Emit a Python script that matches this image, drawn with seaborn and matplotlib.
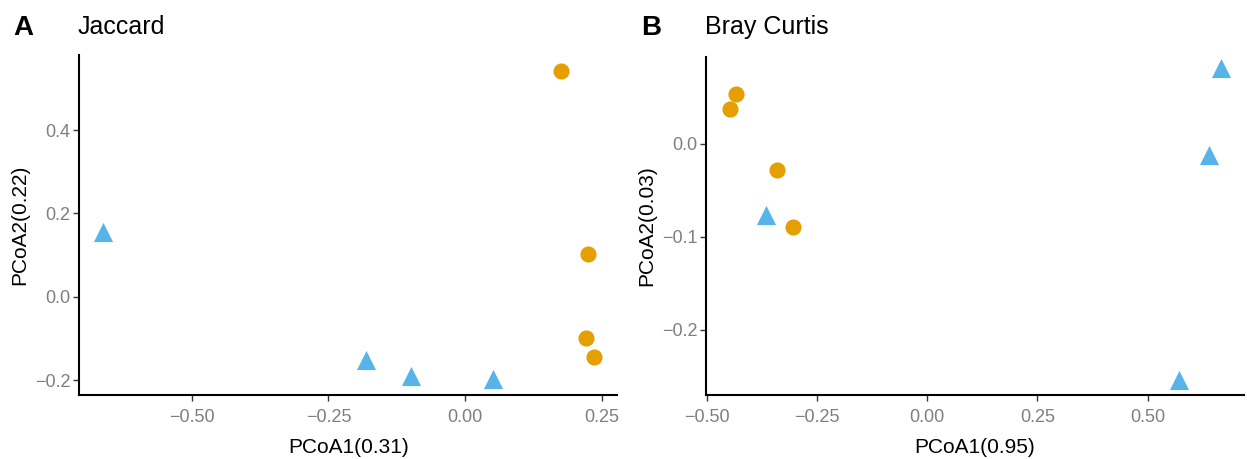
import matplotlib
matplotlib.use("Agg")
import matplotlib.pyplot as plt
import seaborn as sns
import pandas as pd

# PCoA coordinates per sample, two groups
groups = ["Group1"] * 4 + ["Group2"] * 4

jaccard_pc1 = [0.176, 0.225, 0.220, 0.236, -0.662, -0.181, -0.099, 0.051]
jaccard_pc2 = [0.541, 0.103, -0.098, -0.144, 0.155, -0.153, -0.190, -0.197]

bray_pc1 = [-0.435, -0.447, -0.342, -0.304, -0.365, 0.667, 0.639, 0.571]
bray_pc2 = [0.054, 0.037, -0.028, -0.089, -0.076, 0.082, -0.012, -0.254]
bray_groups = ["Group1"] * 4 + ["Group2"] * 4

jaccard_xticks = [-0.50, -0.25, 0.00, 0.25]
jaccard_yticks = [-0.2, 0.0, 0.2, 0.4]
bray_xticks = [-0.50, -0.25, 0.00, 0.25, 0.50]
bray_yticks = [-0.2, -0.1, 0.0]

palette = {"Group1": "#E69F00", "Group2": "#56B4E9"}
markers = {"Group1": "o", "Group2": "^"}
sizes_map = {"Group1": 135, "Group2": 190}

sns.set_theme(style="white")
plt.rcParams["font.family"] = ["Liberation Sans", "DejaVu Sans"]
plt.rcParams["text.color"] = "black"

fig = plt.figure(figsize=(12.47, 4.59), dpi=100)
ax_a = fig.add_axes([0.0634, 0.1394, 0.4316, 0.7406])
ax_b = fig.add_axes([0.5662, 0.1394, 0.4314, 0.7366])


def draw_panel(ax, pc1, pc2, grp, xticks, yticks, xlim, ylim, xlabel, ylabel, fmt_x, fmt_y):
    df = pd.DataFrame({"PC1": pc1, "PC2": pc2, "grp": grp})
    for g in ["Group1", "Group2"]:
        sub = df[df["grp"] == g]
        sns.scatterplot(data=sub, x="PC1", y="PC2", color=palette[g],
                        marker=markers[g], s=sizes_map[g], linewidth=0,
                        ax=ax, legend=False, zorder=3)
    ax.set_xlim(*xlim)
    ax.set_ylim(*ylim)
    ax.set_xticks(xticks)
    ax.set_yticks(yticks)
    ax.set_xticklabels([fmt_x.format(v).replace("-", "\u2212") for v in xticks])
    ax.set_yticklabels([fmt_y.format(v).replace("-", "\u2212") for v in yticks])
    ax.set_xlabel(xlabel, fontsize=15, color="black", labelpad=9)
    ax.set_ylabel(ylabel, fontsize=15, color="black", labelpad=4)
    for side in ["top", "right"]:
        ax.spines[side].set_visible(False)
    for side in ["left", "bottom"]:
        ax.spines[side].set_color("black")
        ax.spines[side].set_linewidth(1.5)
    ax.tick_params(axis="both", which="both", direction="out", length=4,
                   width=1, color="#333333", labelsize=13, labelcolor="#7f7f7f",
                   left=True, bottom=True)
    ax.tick_params(axis="x", pad=6)
    ax.tick_params(axis="y", pad=2)
    ax.grid(False)


draw_panel(ax_a, jaccard_pc1, jaccard_pc2, groups, jaccard_xticks, jaccard_yticks,
           (-0.706, 0.278), (-0.236, 0.58), "PCoA1(0.31)", "PCoA2(0.22)",
           "{:.2f}", "{:.1f}")
draw_panel(ax_b, bray_pc1, bray_pc2, bray_groups, bray_xticks, bray_yticks,
           (-0.502, 0.719), (-0.270, 0.0935), "PCoA1(0.95)", "PCoA2(0.03)",
           "{:.2f}", "{:.1f}")

# Panel letters and titles
fig.text(13 / 1247, 1 - 28 / 459, "A", fontsize=20, fontweight="bold", va="center", ha="left")
fig.text(78 / 1247, 1 - 27 / 459, "Jaccard", fontsize=18, va="center", ha="left")
fig.text(641 / 1247, 1 - 28 / 459, "B", fontsize=20, fontweight="bold", va="center", ha="left")
fig.text(705 / 1247, 1 - 27 / 459, "Bray Curtis", fontsize=18, va="center", ha="left")

fig.savefig("out.png", dpi=100, facecolor="white")
